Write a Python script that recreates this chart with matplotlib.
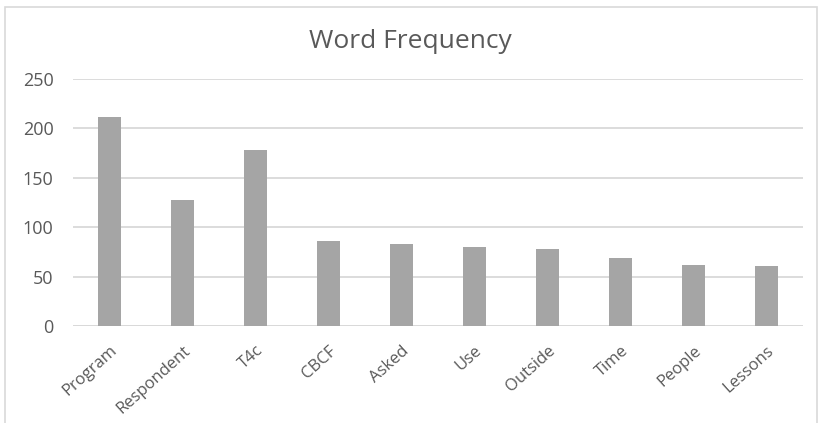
import matplotlib.pyplot as plt
from matplotlib.patches import Rectangle

# 数据
words = ['Program', 'Respondent', 'T4c', 'CBCF', 'Asked', 'Use', 'Outside', 'Time', 'People', 'Lessons']
counts = [212, 128, 178, 86, 83, 80, 78, 69, 62, 61]
y_ticks = [0, 50, 100, 150, 200, 250]

plt.rcParams['font.family'] = ['Open Sans', 'DejaVu Sans']

fig = plt.figure(figsize=(8.2, 4.23), dpi=100)
ax = fig.add_axes([73 / 820, 1 - 326 / 423, 730 / 820, 247 / 423])

x = range(len(words))
ax.bar(x, counts, width=0.31, color='#a5a5a5', zorder=3)

ax.set_xlim(-0.5, len(words) - 0.5)
ax.set_ylim(0, 250)
ax.set_yticks(y_ticks)
ax.yaxis.grid(True, color='#d9d9d9', linewidth=1.3, zorder=0)
ax.set_xticks(list(x))
ax.set_xticklabels(words, rotation=42, ha='right', rotation_mode='anchor')
ax.tick_params(axis='both', length=0, colors='#595959')
ax.tick_params(axis='x', pad=12, labelsize=12)
ax.tick_params(axis='y', pad=14, labelsize=13)
for s in ax.spines.values():
    s.set_visible(False)
ax.axhline(0, color='#d9d9d9', linewidth=1.3, zorder=2)

fig.text(0.5, 1 - 41 / 423, 'Word Frequency', ha='center', va='center',
         fontsize=19, color='#595959')

# 外框
fig.patches.append(Rectangle((5 / 820, -0.05), 812 / 820, 1 - 7 / 423 + 0.05,
                             transform=fig.transFigure, fill=False,
                             edgecolor='#d9d9d9', linewidth=1.2))

fig.savefig('out.png', dpi=100)
